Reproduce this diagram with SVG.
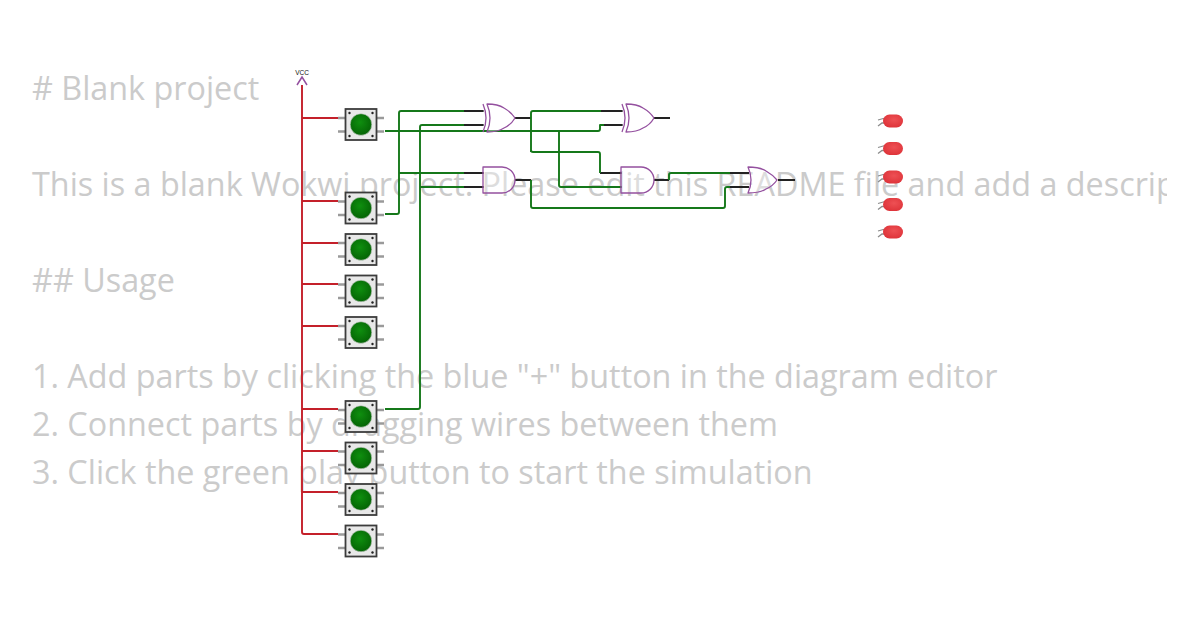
<svg xmlns="http://www.w3.org/2000/svg" width="1200" height="630" viewBox="0 0 1200 630">
<style>
.t{font-family:"Open Sans","Noto Sans",sans-serif;font-size:32.33px;fill:#cbcbcb}
.w{fill:none;stroke-linejoin:round;stroke-width:1.9}
.r{stroke:#c4202a}.g{stroke:#15781a}.k{stroke:#222}
.gate{fill:#fff;fill-opacity:.35;stroke:#94509f;stroke-width:1.300;stroke-linejoin:round}
.pin{stroke:#9a9a9a;stroke-width:2.600}
</style>
<defs>
<clipPath id="c"><rect x="0" y="0" width="1167" height="630"/></clipPath>
<radialGradient id="cap" cx=".45" cy=".4" r=".6"><stop offset="0" stop-color="#0f8f0f"/><stop offset="1" stop-color="#056405"/></radialGradient>
<radialGradient id="body" cx=".55" cy=".4" r=".65"><stop offset="0" stop-color="#ee5054"/><stop offset="1" stop-color="#dd3238"/></radialGradient>
<g id="btn">
<path class="pin" d="M-23-6.500H-15M15-6.500H23M-23 7H-15M15 7H23"/>
<rect x="-15.500" y="-15.500" width="31" height="31" fill="#e8e8e8" stroke="#3c3c3c" stroke-width="1.800"/>
<circle cx="0" cy="0" r="10.800" fill="url(#cap)" stroke="#d0d0d0" stroke-width=".6"/>
<g fill="#222"><circle cx="-11.500" cy="-11.500" r="1.200"/><circle cx="11.500" cy="-11.500" r="1.200"/><circle cx="-11.500" cy="11.500" r="1.200"/><circle cx="11.500" cy="11.500" r="1.200"/></g>
</g>
<g id="led">
<path d="M-13 -1L-6 -3M-13 5L-9 2L-6 2" fill="none" stroke="#8c8c8c" stroke-width="1.300"/>
<rect x="-8" y="-6.500" width="20" height="13" rx="6.500" fill="url(#body)"/>
</g>
</defs>

<g class="t" clip-path="url(#c)">
<text x="32" y="100"># Blank project</text>
<text x="32" y="196">This is a blank Wokwi project. Please edit this README file and add a descrip</text>
<text x="32" y="292">## Usage</text>
<text x="32" y="388">1. Add parts by clicking the blue "+" button in the diagram editor</text>
<text x="32" y="436">2. Connect parts by dragging wires between them</text>
<text x="32" y="484">3. Click the green play button to start the simulation</text>
</g>

<g id="connectors">
<path class="w k" d="M463 111H484M463 125H484M463 173H484M463 187H484M515 118H531M600 111H623M600 125H623M515 180H531M600 173H622M600 187H622M654 118H670M654 180H669M728 173H749M728 187H749M778 180H795"/>
<path class="w r" d="M302 85V532Q302 534 304 534H338M302 118H338M302 201H338M302 243H338M302 284H338M302 326H338M302 409H338M302 451H338M302 492H338"/>
<path class="w g" d="M385 131H598Q600 131 600 129V125H604"/>
<path class="w g" d="M385 214H397Q399 214 399 212V113Q399 111 401 111H464"/>
<path class="w g" d="M399 173H464"/>
<path class="w g" d="M385 409H418Q420 409 420 407V127Q420 125 422 125H464"/>
<path class="w g" d="M420 187H464"/>
<path class="w g" d="M531 152V113Q531 111 533 111H601"/>
<path class="w g" d="M531 150Q531 152 533 152H598Q600 152 600 154V173"/>
<path class="w g" d="M559 131V185Q559 187 561 187H621"/>
<path class="w g" d="M531 180V206Q531 208 533 208H723Q725 208 725 206V189Q725 187 727 187H730"/>
<path class="w g" d="M669 180V175Q669 173 671 173H730"/>
</g>

<g id="vcc">
<path d="M297 85L302 77L307 85" fill="none" stroke="#94509f" stroke-width="1.500"/>
<text x="302" y="75" font-family="Liberation Sans, sans-serif" font-size="6.500" text-anchor="middle" fill="#111">VCC</text>
</g>

<g id="btn1"><use href="#btn" x="361" y="124.500"/></g>
<g id="btn2"><use href="#btn" x="361" y="208"/></g>
<g id="btn3"><use href="#btn" x="361" y="249.500"/></g>
<g id="btn4"><use href="#btn" x="361" y="291"/></g>
<g id="btn5"><use href="#btn" x="361" y="332.500"/></g>
<g id="btn6"><use href="#btn" x="361" y="416.500"/></g>
<g id="btn7"><use href="#btn" x="361" y="458"/></g>
<g id="btn8"><use href="#btn" x="361" y="499.500"/></g>
<g id="btn9"><use href="#btn" x="361" y="541"/></g>

<g id="xor1"><path class="gate" d="M487 104Q498 104 504 108Q511 112 515 118Q511 125 504 128Q498 132 487 132Q493 118 487 104Z"/><path class="gate" fill="none" d="M483 104Q489 118 483 132"/></g>
<g id="xor2"><path class="gate" d="M626 104Q637 104 643 108Q650 112 654 118Q650 125 643 128Q637 132 626 132Q632 118 626 104Z"/><path class="gate" fill="none" d="M622 104Q628 118 622 132"/></g>
<g id="and1"><path class="gate" d="M483 167H502A13 13 0 0 1 502 193H483Z"/></g>
<g id="and2"><path class="gate" d="M621 167H641A13 13 0 0 1 641 193H621Z"/></g>
<g id="or1"><path class="gate" d="M748 167Q760 167 766 171Q773 175 777 180Q773 186 766 189Q760 193 748 193Q754 180 748 167Z"/></g>

<g id="led1"><use href="#led" x="891" y="121"/></g>
<g id="led2"><use href="#led" x="891" y="148.500"/></g>
<g id="led3"><use href="#led" x="891" y="177"/></g>
<g id="led4"><use href="#led" x="891" y="204.500"/></g>
<g id="led5"><use href="#led" x="891" y="232"/></g>
</svg>
